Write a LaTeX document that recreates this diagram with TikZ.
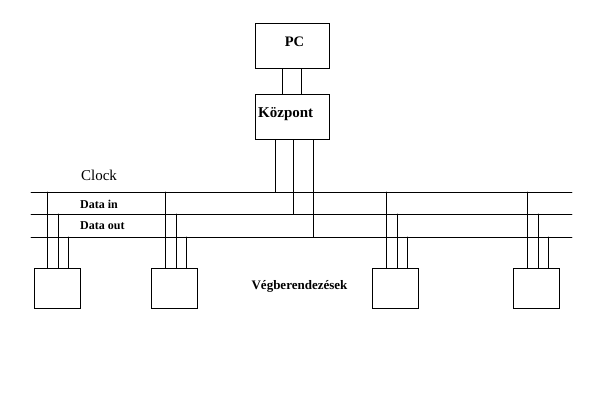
\documentclass[tikz,border=0pt]{standalone}
\usepackage{fontspec}
\setmainfont{Liberation Serif}

\begin{document}
\begin{tikzpicture}
		[x=1pt,y=-1pt,line cap=round,
		%Styles
		wire/.style={line width=0.9pt},
		box/.style={draw,line width=0.9pt,minimum width=74pt,minimum height=45pt,inner sep=0pt},
		device/.style={draw,line width=0.9pt,minimum width=46pt,minimum height=40pt,inner sep=0pt},
		big text/.style={font=\fontsize{15}{18}\selectfont,inner sep=0pt},
		title text/.style={font=\fontsize{15}{18}\selectfont\bfseries,inner sep=0pt},
		small text/.style={font=\fontsize{12}{14}\selectfont\bfseries,inner sep=0pt,anchor=west}
		]
		\useasboundingbox (0,0) rectangle (600,400);
		
		%Bus lines
		\coordinate (clock w) at (31,192);
		\coordinate (clock e) at (572,192);
		\coordinate (in w) at (31,214);
		\coordinate (in e) at (572,214);
		\coordinate (out w) at (31,237);
		\coordinate (out e) at (572,237);
		\draw[wire] (clock w) -- (clock e)
			(in w) -- (in e)
			(out w) -- (out e);
		
		%The graphic
		\node[box] (pc) at (292,45.5) {};
		\node[title text,font=\fontsize{14.5}{17}\selectfont\bfseries] (pc text) at (294.5,42) {PC};
		\node[box] (kozpont) at (292,116.5) {};
		\node[title text,anchor=west] (kozpont text) at (258,114) {Központ};
		
		\foreach \dx in {28,47}
			\draw[wire] ([xshift=\dx pt]pc.south west) -- ([xshift=\dx pt]kozpont.north west);
		
		\draw[wire]
			([xshift=21pt]kozpont.south west) -- ([xshift=21pt]kozpont.south west |- clock w)
			([xshift=39pt]kozpont.south west) -- ([xshift=39pt]kozpont.south west |- in w)
			([xshift=59pt]kozpont.south west) -- ([xshift=59pt]kozpont.south west |- out w);
		
		\foreach \name/\cx in {dev1/57,dev2/174.5,dev3/395.5,dev4/536.5}
			\node[device] (\name) at (\cx,288) {};
		
		\foreach \name in {dev1,dev2,dev3,dev4}
			\draw[wire]
				([xshift=14pt]\name.north west) -- ([xshift=14pt]\name.north west |- clock w)
				([xshift=25pt]\name.north west) -- ([xshift=25pt]\name.north west |- in w)
				([xshift=35pt]\name.north west) -- ([xshift=35pt]\name.north west |- out w);
		
		%Labels
		\node[big text] (clock text) at (99,175) {Clock};
		\node[small text] (in text) at (80,204) {Data in};
		\node[small text] (out text) at (80,226) {Data out};
		\node[small text,anchor=center,font=\fontsize{13}{15}\selectfont\bfseries] (dev text) at (299.5,286) {Végberendezések};
	\end{tikzpicture}
\end{document}
